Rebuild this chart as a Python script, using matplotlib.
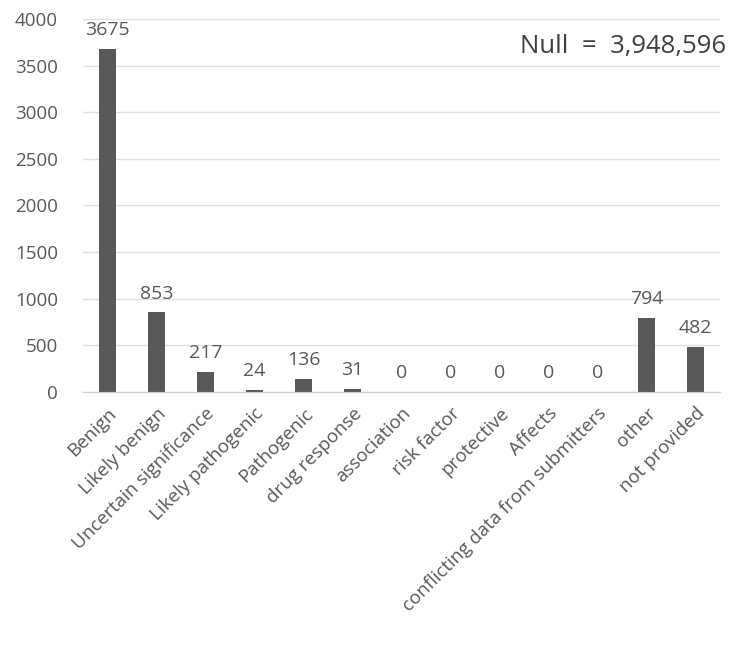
import numpy as np
import matplotlib
matplotlib.use("Agg")
import matplotlib.pyplot as plt

plt.rcParams['font.family'] = ['Open Sans', 'DejaVu Sans']

categories = ['Benign', 'Likely benign', 'Uncertain significance', 'Likely pathogenic',
              'Pathogenic', 'drug response', 'association', 'risk factor', 'protective',
              'Affects', 'conflicting data from submitters', 'other', 'not provided']
counts = [3675, 853, 217, 24, 136, 31, 0, 0, 0, 0, 0, 794, 482]
null_count = 3948596
yticks = [0, 500, 1000, 1500, 2000, 2500, 3000, 3500, 4000]

txt = '#595959'

fig = plt.figure(figsize=(7.34, 6.52), dpi=100)
ax = fig.add_axes([0.113, 0.399, 0.868, 0.572])

x = np.arange(len(categories))
ax.bar(x, counts, width=0.33, color='#595959', zorder=2)

for xi, v in zip(x, counts):
    ax.annotate(str(v), (xi, v), xytext=(0, 7), textcoords='offset points',
                ha='center', va='bottom', fontsize=14, color=txt)

ax.set_xlim(-0.5, len(categories) - 0.5)
ax.set_ylim(0, 4000)
ax.set_yticks(yticks)
ax.set_xticks(x)
ax.set_xticklabels(categories, rotation=45, ha='right', rotation_mode='anchor',
                   fontsize=13.5, color=txt)
ax.tick_params(axis='y', labelsize=13.5, labelcolor=txt, length=0, pad=18)
ax.tick_params(axis='x', length=0, pad=9)

ax.grid(axis='y', color='#e0e0e0', linewidth=1, zorder=0)
for s in ['top', 'right', 'left']:
    ax.spines[s].set_visible(False)
ax.spines['bottom'].set_color('#d0d0d0')

ax.text(1.01, 0.925, f'Null  =  {null_count:,}', transform=ax.transAxes,
        ha='right', va='center', fontsize=18.5, color='#404040',
        bbox=dict(facecolor='white', edgecolor='none', pad=2), zorder=3)

fig.savefig('out.png', dpi=100)
